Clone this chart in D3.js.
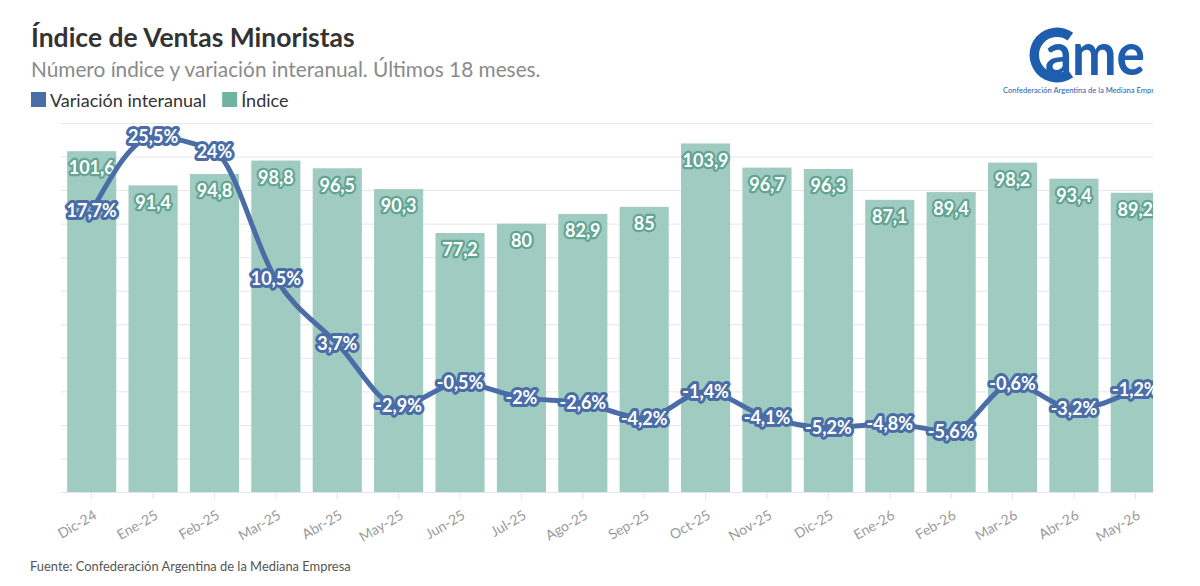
<!DOCTYPE html>
<html>
<head>
<meta charset="utf-8">
<script src="https://cdn.jsdelivr.net/npm/d3@7"></script>
<style>
  body { margin: 0; background: #fff; }
  svg { display: block; overflow: hidden; }
  text { font-family: Lato, "Noto Sans", sans-serif; }
</style>
</head>
<body>
<div id="chart"></div>
<script>
// data
const months = ["Dic-24", "Ene-25", "Feb-25", "Mar-25", "Abr-25", "May-25", "Jun-25", "Jul-25", "Ago-25",
  "Sep-25", "Oct-25", "Nov-25", "Dic-25", "Ene-26", "Feb-26", "Mar-26", "Abr-26", "May-26"];
const indice = [101.6, 91.4, 94.8, 98.8, 96.5, 90.3, 77.2, 80, 82.9, 85, 103.9, 96.7, 96.3, 87.1, 89.4, 98.2, 93.4, 89.2];
const variacion = [17.7, 25.5, 24, 10.5, 3.7, -2.9, -0.5, -2, -2.6, -4.2, -1.4, -4.1, -5.2, -4.8, -5.6, -0.6, -3.2, -1.2];
const gridTicks = d3.range(0, 111, 10);

const title = "Índice de Ventas Minoristas";
const subtitle = "Número índice y variación interanual. Últimos 18 meses.";
const source = "Fuente: Confederación Argentina de la Mediana Empresa";

let width = 1153, // picture is cropped on the right
    height = 586,
    margin = ({ top: 123, bottom: 94, left: 61 }),
    plotRight = 1166;

const barColor = "#9fcbc0",
      barDark = "#62a593",
      lineColor = "#4a6da7";

const fmt = v => String(v).replace(".", ",");

const svg = d3.select("#chart")
  .append("svg")
  .attr("width", width)
  .attr("height", height);

let x = d3.scaleBand()
  .domain(months)
  .range([margin.left, plotRight])
  .paddingInner(0.2)
  .paddingOuter(0.1);

let yBar = d3.scaleLinear()
  .domain([0, 110])
  .range([height - margin.bottom, margin.top]);

let yLine = d3.scaleLinear()
  .domain([-12, 27])
  .range([height - margin.bottom, margin.top]);

// header
svg.append("text")
  .attr("x", 31).attr("y", 47)
  .attr("font-size", 26.5).attr("font-weight", 700)
  .attr("fill", "#333")
  .text(title);

svg.append("text")
  .attr("x", 31).attr("y", 77)
  .attr("font-size", 20.8)
  .attr("fill", "#8a8a8a")
  .text(subtitle);

// legend
let legendItems = [["Variación interanual", lineColor], ["Índice", "#6fb3a1"]];
let lx = 31;
for (let [name, color] of legendItems) {
  let g = svg.append("g").attr("transform", `translate(${lx},0)`);
  g.append("rect").attr("x", 0).attr("y", 92).attr("width", 15).attr("height", 15).attr("fill", color);
  let t = g.append("text").attr("x", 19).attr("y", 106.5)
    .attr("font-size", 18).attr("fill", "#333").text(name);
  lx += 19 + t.node().getComputedTextLength() + 16;
}

// logo
let logo = svg.append("g").attr("fill", "#1f5daf");
logo.append("path")
  .attr("transform", "translate(1057,55)")
  .attr("d", d3.arc()({ innerRadius: 18, outerRadius: 27.5, startAngle: 0.8 * Math.PI, endAngle: 2.2 * Math.PI }));
logo.append("text")
  .attr("x", 1045).attr("y", 75)
  .attr("font-family", "'Liberation Sans', Arial, sans-serif")
  .attr("font-size", 60).attr("font-weight", 700)
  .attr("textLength", 100).attr("lengthAdjust", "spacingAndGlyphs")
  .text("ame");
logo.append("text")
  .attr("x", 1003).attr("y", 93)
  .attr("font-family", "'Liberation Sans', Arial, sans-serif")
  .attr("font-size", 7.6)
  .text("Confederación Argentina de la Mediana Empresa");

// grid
svg.append("g")
  .attr("transform", `translate(${margin.left},0)`)
  .call(d3.axisLeft(yBar).tickValues(gridTicks).tickSize(-(plotRight - margin.left)).tickFormat(""))
  .call(g => g.select(".domain").remove())
  .call(g => g.selectAll("line").attr("stroke", "#e6e6e6"));

// x axis
svg.append("g")
  .attr("transform", `translate(0,${height - margin.bottom})`)
  .call(d3.axisBottom(x).tickSize(7).tickSizeOuter(0))
  .call(g => g.select(".domain").remove())
  .call(g => g.selectAll("line").attr("stroke", "#e2e2e2"))
  .call(g => g.selectAll("text")
    .attr("font-family", "Lato, 'Noto Sans', sans-serif")
    .attr("font-size", 14)
    .attr("fill", "#9a9a9a")
    .attr("text-anchor", "end")
    .attr("x", 6).attr("y", 26).attr("dy", 0)
    .attr("transform", "rotate(-30,6,26)"));

// bars
svg.append("g")
  .selectAll("rect")
  .data(indice)
  .join("rect")
  .attr("x", (d, i) => x(months[i]))
  .attr("width", x.bandwidth())
  .attr("y", d => yBar(d))
  .attr("height", d => yBar(0) - yBar(d))
  .attr("fill", barColor);

svg.append("g")
  .selectAll("text")
  .data(indice)
  .join("text")
  .attr("x", (d, i) => x(months[i]) + x.bandwidth() / 2)
  .attr("y", d => yBar(d) + 17)
  .attr("dy", "0.35em")
  .attr("text-anchor", "middle")
  .attr("font-size", 18).attr("font-weight", 700)
  .attr("fill", "#fff")
  .attr("stroke", barDark).attr("stroke-width", 4.5)
  .attr("stroke-linejoin", "round")
  .attr("paint-order", "stroke")
  .text(fmt);

// line
let line = d3.line()
  .x((d, i) => x(months[i]) + x.bandwidth() / 2)
  .y(d => yLine(d))
  .curve(d3.curveMonotoneX);

svg.append("path")
  .datum(variacion)
  .attr("fill", "none")
  .attr("stroke", lineColor)
  .attr("stroke-width", 5)
  .attr("stroke-linejoin", "round")
  .attr("d", line);

svg.append("g")
  .selectAll("text")
  .data(variacion)
  .join("text")
  .attr("x", (d, i) => x(months[i]) + x.bandwidth() / 2)
  .attr("y", d => yLine(d))
  .attr("dy", "0.35em")
  .attr("text-anchor", "middle")
  .attr("font-size", 18).attr("font-weight", 700)
  .attr("fill", "#fff")
  .attr("stroke", lineColor).attr("stroke-width", 6)
  .attr("stroke-linejoin", "round")
  .attr("paint-order", "stroke")
  .text(d => fmt(d) + "%");

// footer
svg.append("text")
  .attr("x", 30).attr("y", 571)
  .attr("font-size", 12.9)
  .attr("fill", "#555")
  .text(source);
</script>
</body>
</html>
